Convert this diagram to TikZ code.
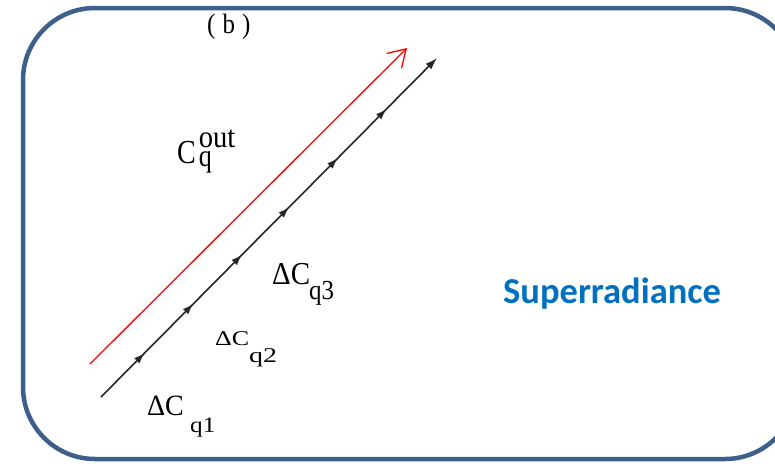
\documentclass[tikz,border=0pt]{standalone}
\usepackage{fontspec}
\setmainfont{Liberation Serif}
\newfontfamily\calib{Carlito}
\usetikzlibrary{arrows.meta,decorations.markings}
\definecolor{framecol}{RGB}{61,95,140}
\definecolor{srcol}{RGB}{0,112,192}
\newcommand{\fs}[1]{\fontsize{#1}{#1}\selectfont}
\begin{document}
\begin{tikzpicture}[x=1pt,y=-1pt,
  txt/.style={inner sep=0pt, anchor=base west},
  midtip/.style={decoration={markings,
     mark=at position 0.13 with {\arrow{Latex[length=11pt,width=7.5pt]}},
     mark=at position 0.275 with {\arrow{Latex[length=11pt,width=7.5pt]}},
     mark=at position 0.42 with {\arrow{Latex[length=11pt,width=7.5pt]}},
     mark=at position 0.56 with {\arrow{Latex[length=11pt,width=7.5pt]}},
     mark=at position 0.705 with {\arrow{Latex[length=11pt,width=7.5pt]}},
     mark=at position 0.85 with {\arrow{Latex[length=11pt,width=7.5pt]}}},
     postaction={decorate}}]
\useasboundingbox (0,0) rectangle (775,463);
\clip (0,0) rectangle (775,463);
\fill[white] (0,0) rectangle (775,463);
\draw[framecol, line width=4.5pt, rounded corners=72pt] (23,8) rectangle (797,459);

% connectors
\coordinate (bs) at (101,397);
\coordinate (be) at (437,58);
\draw[line width=1.6pt, black!85, -{Latex[length=12pt,width=8pt]}, midtip] (bs) -- (be);
\coordinate (rs) at (90,364);
\coordinate (re) at (407,48);
\draw[red, line width=1.3pt, -{Straight Barb[length=17pt,width=21pt]}] (rs) -- (re);

% labels
\node[txt] (b) at (207,33) {\scalebox{1}[1.12]{\fs{25}(\hspace{7pt}b\hspace{7pt})}};
\node[txt] (cout) at (177,163) {\scalebox{1}[1.2]{\fs{28}C}\hspace{3pt}\rlap{\raisebox{16pt}{\scalebox{1.1}[1.2]{\fs{26}out}}}\raisebox{-3pt}{\scalebox{1}[1.2]{\fs{26}q}}};
\node[txt] (d3) at (272,284) {\scalebox{1}[1.1]{\fs{29}ΔC}};
\node[txt] (s3) at (309,299) {\scalebox{1}[1.1]{\fs{25}q3}};
\node[txt] (d2) at (215,345) {\scalebox{1.3}[1.05]{\fs{20}ΔC}};
\node[txt] (s2) at (249,362) {\scalebox{1.4}[1.05]{\fs{20}q2}};
\node[txt] (d1) at (147,415) {\scalebox{1}[1.05]{\fs{28}ΔC}};
\node[txt] (s1) at (190,432) {\scalebox{1.2}[1.05]{\fs{21}q1}};
\node[txt, text=srcol] (sr) at (503,303) {\calib\bfseries\fs{36.5}Superradiance};
\end{tikzpicture}
\end{document}
